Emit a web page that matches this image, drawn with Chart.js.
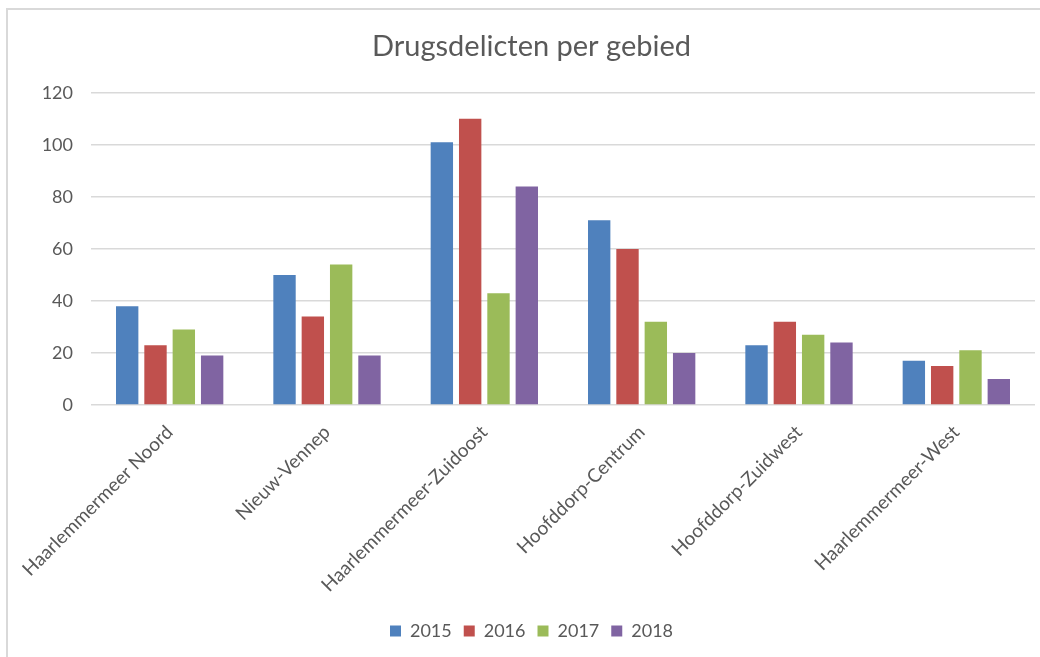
<!DOCTYPE html>
<html>
<head>
<meta charset="utf-8">
<title>Drugsdelicten per gebied</title>
<script src="https://cdn.jsdelivr.net/npm/chart.js@4/dist/chart.umd.min.js"></script>
<style>
  html, body { margin: 0; padding: 0; background: #fff; }
  #wrap { position: relative; width: 1040px; height: 657px; overflow: hidden; }
  #frame {
    position: absolute; left: 6px; top: 8px; right: -10px; bottom: -10px;
    border-left: 2px solid #d9d9d9; border-top: 2px solid #d9d9d9;
  }
  canvas { position: absolute; left: 0; top: 0; }
</style>
</head>
<body>
<div id="wrap">
  <div id="frame"></div>
  <canvas id="myChart" width="1040" height="657"></canvas>
</div>
<script>
const gebieden = [
    'Haarlemmermeer Noord',
    'Nieuw-Vennep',
    'Haarlemmermeer-Zuidoost',
    'Hoofddorp-Centrum',
    'Hoofddorp-Zuidwest',
    'Haarlemmermeer-West'
];
const jaren = ['2015', '2016', '2017', '2018'];
const delicten2015 = [38, 50, 101, 71, 23, 17];
const delicten2016 = [23, 34, 110, 60, 32, 15];
const delicten2017 = [29, 54, 43, 32, 27, 21];
const delicten2018 = [19, 19, 84, 20, 24, 10];
const yTicks = [0, 20, 40, 60, 80, 100, 120];

const kleuren = ['#4f81bd', '#c0504d', '#9bbb59', '#8064a2'];
const reeksen = [delicten2015, delicten2016, delicten2017, delicten2018];
const tekstKleur = '#595959';
const lettertype = 'Lato, "Open Sans", sans-serif';

var ctx = document.getElementById('myChart').getContext('2d');

var myChart = new Chart(ctx, {
    type: 'bar',
    data: {
        labels: gebieden,
        datasets: jaren.map((jaar, i) => ({
            label: jaar,
            data: reeksen[i],
            backgroundColor: kleuren[i],
            borderWidth: 0,
            categoryPercentage: 0.72,
            barPercentage: 0.79
        }))
    },
    options: {
        responsive: false,
        animation: false,
        devicePixelRatio: 1,
        layout: {
            // left padding shifts the title and legend centre to the right
            padding: { left: 28, right: 5, top: 0, bottom: 7 }
        },
        plugins: {
            title: {
                display: true,
                text: 'Drugsdelicten per gebied',
                color: tekstKleur,
                font: { family: lettertype, size: 29, weight: 'normal' },
                padding: { top: 29, bottom: 29 }
            },
            legend: {
                position: 'bottom',
                labels: {
                    color: tekstKleur,
                    font: { family: lettertype, size: 18 },
                    boxWidth: 11,
                    boxHeight: 11,
                    padding: 12
                }
            },
            tooltip: { enabled: false }
        },
        scales: {
            x: {
                grid: { display: false },
                border: { display: false },
                ticks: {
                    color: tekstKleur,
                    font: { family: lettertype, size: 19 },
                    minRotation: 45,
                    maxRotation: 45,
                    padding: 8,
                    autoSkip: false
                },
                afterFit: (scale) => { scale.height = 205; }
            },
            y: {
                min: 0,
                max: 120,
                afterBuildTicks: (scale) => {
                    scale.ticks = yTicks.map(v => ({ value: v }));
                },
                grid: {
                    color: '#d9d9d9',
                    lineWidth: 1.5,
                    drawTicks: false
                },
                border: { display: false },
                ticks: {
                    color: tekstKleur,
                    font: { family: lettertype, size: 18 },
                    padding: 18
                },
                afterFit: (scale) => { scale.width = 63; }
            }
        }
    }
});
</script>
</body>
</html>
